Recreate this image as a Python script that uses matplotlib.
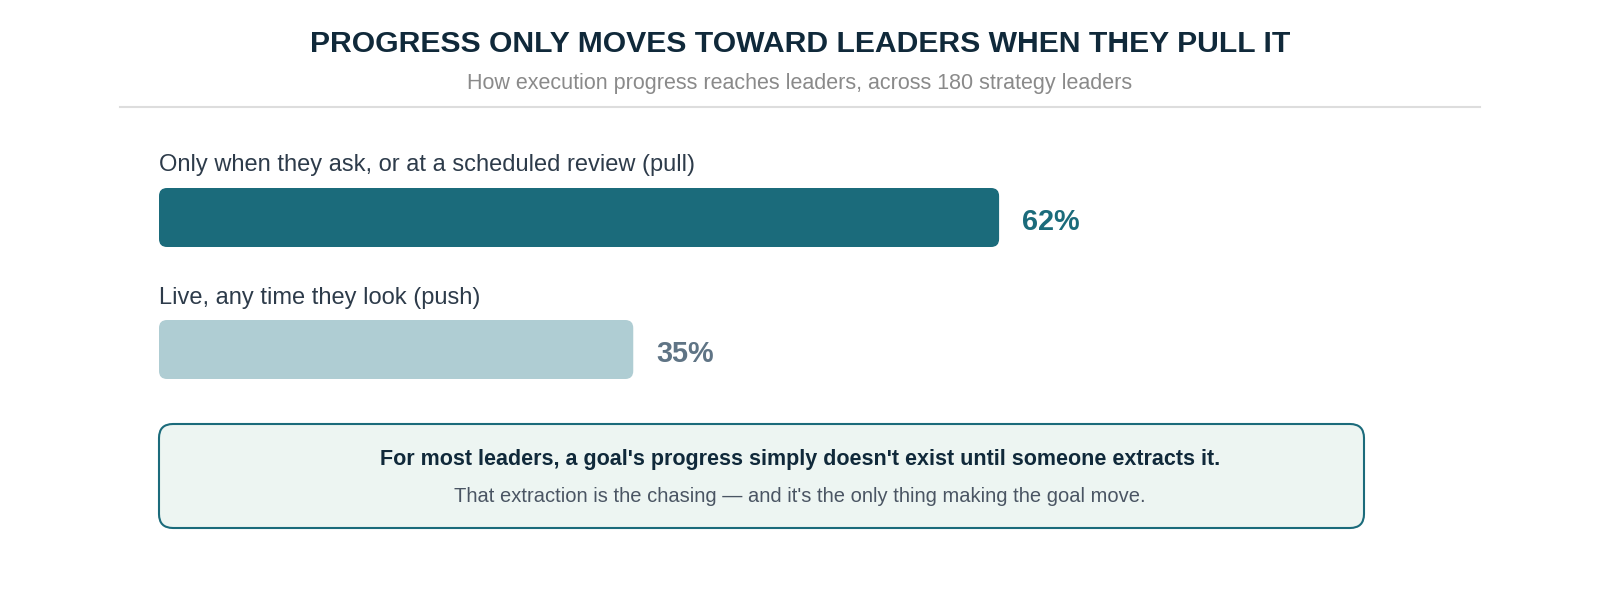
import matplotlib
matplotlib.use("Agg")
import matplotlib.pyplot as plt
from matplotlib.patches import FancyBboxPatch

plt.rcParams['font.family'] = ['Liberation Sans', 'DejaVu Sans']

# data
categories = ["Only when they ask, or at a scheduled review (pull)",
              "Live, any time they look (push)"]
values = [62, 35]
bar_colors = ["#1b6b7b", "#afcdd3"]
value_colors = ["#1b6b7b", "#5f7485"]

title = "PROGRESS ONLY MOVES TOWARD LEADERS WHEN THEY PULL IT"
subtitle = "How execution progress reaches leaders, across 180 strategy leaders"
callout_main = "For most leaders, a goal's progress simply doesn't exist until someone extracts it."
callout_sub = "That extraction is the chasing \u2014 and it's the only thing making the goal move."

W, H = 1600, 600
fig = plt.figure(figsize=(16, 6), dpi=100)

# background axes in pixel units for the text and decorations
bg = fig.add_axes([0, 0, 1, 1])
bg.set_xlim(0, W)
bg.set_ylim(H, 0)
bg.axis('off')

bg.text(800, 44, title, ha='center', va='center', fontsize=21.7,
        fontweight='bold', color='#10293a')
bg.text(800, 83, subtitle, ha='center', va='center', fontsize=15.5,
        color='#8a8a8a')
bg.plot([120, 1480], [107, 107], color='#dddddd', lw=1.5)

# bars axes: x in percent, y in pixels
x0, x100 = 159, 1514
ax = fig.add_axes([x0 / W, 0, (x100 - x0) / W, 1])
ax.set_xlim(0, 100)
ax.set_ylim(H, 0)
ax.axis('off')

xu_per_px = 100 / (x100 - x0)
bar_tops = [188, 320]
bar_h = 59
label_y = [165, 298]
radius = 8

for i, (cat, v) in enumerate(zip(categories, values)):
    box = FancyBboxPatch((0, bar_tops[i]), v, bar_h,
                         boxstyle=f"round,pad=0,rounding_size={radius * xu_per_px}",
                         mutation_aspect=1 / xu_per_px,
                         fc=bar_colors[i], ec='none')
    ax.add_patch(box)
    ax.text(0, label_y[i], cat, ha='left', va='center', fontsize=17,
            color='#2d3b4a')
    ax.text(v + 23 * xu_per_px, bar_tops[i] + bar_h / 2 + 5, f"{v}%",
            ha='left', va='center', fontsize=20.8, fontweight='bold',
            color=value_colors[i])

# callout box
call = FancyBboxPatch((159, 424), 1205, 104,
                      boxstyle="round,pad=0,rounding_size=14",
                      fc='#edf5f2', ec='#1b6b7b', lw=1.5)
bg.add_patch(call)
bg.text(800, 459, callout_main, ha='center', va='center', fontsize=15.5,
        fontweight='bold', color='#10293a')
bg.text(800, 496, callout_sub, ha='center', va='center', fontsize=14.5,
        color='#4a5563')

fig.savefig("out.png", dpi=100, facecolor='white')
